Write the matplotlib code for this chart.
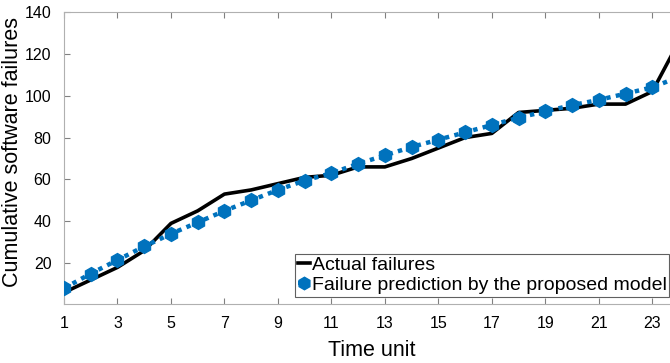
#!/usr/bin/env python3
"""Cumulative software failures: actual vs. model prediction."""
import matplotlib
matplotlib.use("Agg")
import matplotlib.pyplot as plt

plt.rcParams["font.family"] = ["Liberation Sans", "DejaVu Sans"]

time_unit = list(range(1, 25))
actual = [6, 12, 18, 26, 39, 45, 53, 55, 58, 61, 62, 66, 66, 70, 75, 80,
          82, 92, 93, 94, 96, 96, 102, 126]
predicted = [8, 15, 21.5, 28, 34, 39.5, 45, 50, 55, 59.5, 63, 67.5, 71.5,
             75.5, 79, 82.5, 86, 89.5, 92.5, 95.5, 98, 101, 104, 109]
xticks = list(range(1, 24, 2))
yticks = [20, 40, 60, 80, 100, 120, 140]

BLUE = "#0072BD"


def main():
    fig = plt.figure(figsize=(6.70, 3.63), dpi=100)
    ax = fig.add_axes([64 / 670, 1 - 304 / 363, 615 / 670, 292 / 363])

    ax.plot(time_unit, actual, color="black", linewidth=2.6,
            label="Actual failures", zorder=3)
    ax.plot(time_unit, predicted, color=BLUE, linestyle=(0, (1, 1.2)),
            linewidth=3.2, marker="h", markersize=10,
            label="Failure prediction by the proposed model", zorder=4)

    ax.set_xlim(1, 24)
    ax.set_ylim(0.5, 140)
    ax.set_xticks(xticks)
    ax.set_yticks(yticks)
    ax.tick_params(direction="in", length=4, width=0.8, color="#808080",
                   labelsize=11.5, top=True, right=True)
    ax.tick_params(axis="x", pad=9)
    ax.tick_params(axis="y", pad=9)
    for s in ax.spines.values():
        s.set_color("#b0b0b0")
        s.set_linewidth(0.8)

    ax.set_xlabel("Time unit", fontsize=15.5, labelpad=6)
    ax.set_ylabel("Cumulative software failures", fontsize=15.5)
    ax.yaxis.set_label_coords(-0.066, 0.52)

    leg = ax.legend(loc="lower right", bbox_to_anchor=(0.9845, 0.025),
                    fontsize=14, handlelength=0.6, handletextpad=0.1,
                    borderpad=0.15, labelspacing=0.1, borderaxespad=0,
                    fancybox=False, framealpha=1, markerscale=0.9)
    leg.get_frame().set_edgecolor("#606060")
    leg.get_frame().set_linewidth(0.8)

    fig.savefig("out.png", dpi=100)


if __name__ == "__main__":
    main()
